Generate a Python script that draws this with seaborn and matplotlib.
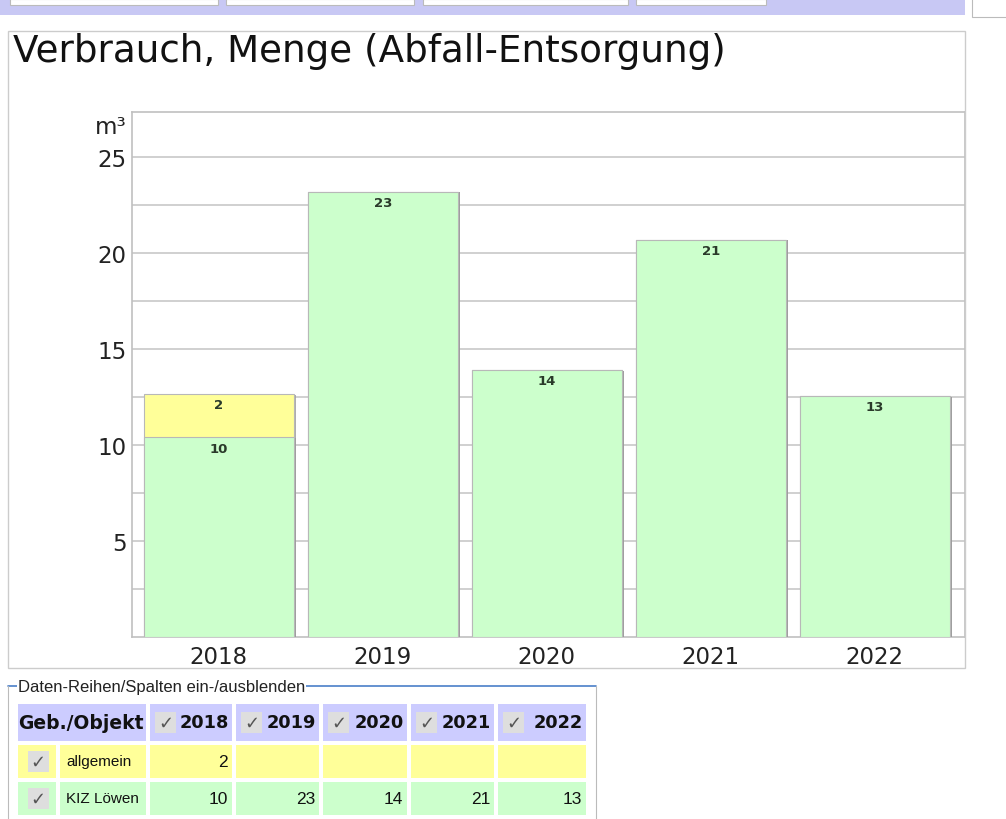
import matplotlib
matplotlib.use("Agg")
import matplotlib.pyplot as plt
import matplotlib.patheffects as pe
from matplotlib.patches import Rectangle
import numpy as np
import pandas as pd
import seaborn as sns

# ---------------- data ----------------
years = ["2018", "2019", "2020", "2021", "2022"]
kiz_loewen = [10.4, 23.2, 13.9, 20.7, 12.55]
allgemein = [2.25, 0.0, 0.0, 0.0, 0.0]
series_names = ["allgemein", "KIZ Löwen"]
y_ticks = [5, 10, 15, 20, 25]
title_text = "Verbrauch, Menge (Abfall-Entsorgung)"
unit_text = "m³"
legend_text = "Daten-Reihen/Spalten ein-/ausblenden"
header_first = "Geb./Objekt"

GREEN = "#ccffcc"
YELLOW = "#ffff99"
LAVENDER = "#ccccff"

W, H = 1006, 820
sns.set_theme(style="white")
plt.rcParams["font.family"] = ["DejaVu Sans"]

fig = plt.figure(figsize=(W / 100, H / 100), dpi=100)


def fx(x):
    return x / W


def fy(y):
    return 1 - y / H


def frect(x0, y0, x1, y1, **kw):
    r = Rectangle((fx(x0), fy(y1)), fx(x1) - fx(x0), fy(y0) - fy(y1),
                  transform=fig.transFigure, **kw)
    fig.patches.append(r)
    return r


# ---- top strip (page header remnants) ----
frect(0, 0, 965, 16, facecolor="#c8c8f4", edgecolor="none")
for a, b in [(10, 218), (226, 414), (423, 628), (636, 766)]:
    frect(a, 0, b, 6, facecolor="white", edgecolor="#bbbbbb", lw=0.8)
frect(972, -2, 1010, 18, facecolor="white", edgecolor="#bbbbbb", lw=0.8)

# ---- chart panel border ----
frect(8, 32, 965, 669, facecolor="none", edgecolor="#cccccc", lw=1.0)
fig.text(fx(13), fy(52), title_text, fontsize=26.8, va="center", ha="left",
         color="#111111")

# ---- chart axes ----
px_left, px_right, px_top, px_bottom = 132, 965, 113, 638
ax = fig.add_axes([fx(px_left), fy(px_bottom), fx(px_right) - fx(px_left),
                   fy(px_top) - fy(px_bottom)])

df = pd.DataFrame({"year": years, "kiz": kiz_loewen, "allg": allgemein})
df["total"] = df["kiz"] + df["allg"]

shadow = [pe.SimplePatchShadow(offset=(1.5, -0.5), shadow_rgbFace="#9a9a9a", alpha=0.8),
          pe.Normal()]
sns.barplot(data=df, x="year", y="total", color=YELLOW, saturation=1,
            width=0.915, edgecolor="#b8b8b8", linewidth=0.8, ax=ax, zorder=3)
sns.barplot(data=df, x="year", y="kiz", color=GREEN, saturation=1,
            width=0.915, edgecolor="#b8b8b8", linewidth=0.8, ax=ax, zorder=3)
for p in ax.patches:
    if p.get_height() > 0:
        p.set_path_effects(shadow)

# value labels
for i, (g, yv) in enumerate(zip(kiz_loewen, allgemein)):
    ax.text(i, g - 0.22, f"{round(g)}", ha="center", va="top", fontsize=9.5,
            color="#2a3a2a", fontweight="semibold", zorder=5)
    if yv > 0:
        ax.text(i, g + yv - 0.22, f"{round(yv)}", ha="center", va="top",
                fontsize=9.5, color="#2a3a2a", fontweight="semibold", zorder=5)

ax.set_xlim(-0.53, 4.55)
ax.set_ylim(0, 27.35)
ax.set_yticks(y_ticks)
ax.set_yticks(np.arange(2.5, 27.5, 5), minor=True)
ax.grid(True, axis="y", which="both", color="#c8c8c8", lw=1.2, zorder=0)
ax.set_axisbelow(True)
ax.tick_params(axis="both", which="both", length=0, labelsize=16.5,
               colors="#222222")
ax.tick_params(axis="x", pad=6)
ax.tick_params(axis="y", pad=4)
ax.set_xlabel("")
ax.set_ylabel("")
for s in ax.spines.values():
    s.set_color("#c0c0c0")
    s.set_linewidth(1.2)
fig.text(fx(127), fy(127), unit_text, fontsize=16.5, ha="right", va="center",
         color="#222222")

# ---- table below ----
fig.lines.append(plt.Line2D([fx(8), fx(596)], [fy(687), fy(687)],
                            transform=fig.transFigure, color="#4a7fc8", lw=1.2))
fig.lines.append(plt.Line2D([fx(8), fx(8)], [fy(687), fy(820)],
                            transform=fig.transFigure, color="#bbbbbb", lw=0.8))
fig.lines.append(plt.Line2D([fx(596), fx(596)], [fy(687), fy(820)],
                            transform=fig.transFigure, color="#bbbbbb", lw=0.8))
fig.text(fx(18), fy(688), legend_text, fontsize=12, ha="left", va="center",
         family="Liberation Sans", color="#222222",
         bbox=dict(facecolor="white", edgecolor="none", pad=0.5))

col_edges = [(18, 146), (150, 232), (236, 319), (323, 407), (411, 494), (498, 586)]
row_edges = [(705, 742), (746, 779), (783, 816)]


def checkbox(cx, cy, size=21):
    frect(cx - size / 2, cy - size / 2, cx + size / 2, cy + size / 2,
          facecolor="#dedede", edgecolor="none")
    fig.text(fx(cx), fy(cy), "✓", fontsize=13, ha="center", va="center",
             color="#555555")


# header row
y0, y1 = row_edges[0]
cy = (y0 + y1) / 2
frect(col_edges[0][0], y0, col_edges[0][1], y1, facecolor=LAVENDER, edgecolor="none")
fig.text(fx(81), fy(cy), header_first, fontsize=13.5, fontweight="bold",
         ha="center", va="center", color="#111111")
for (a, b), yr in zip(col_edges[1:], years):
    frect(a, y0, b, y1, facecolor=LAVENDER, edgecolor="none")
    checkbox(a + 15.5, cy)
    fig.text(fx(b - 3), fy(cy), yr, fontsize=12.8, fontweight="bold",
             ha="right", va="center", color="#111111")

# data rows
rows = [(series_names[0], allgemein, YELLOW), (series_names[1], kiz_loewen, GREEN)]
for (name, vals, col), (y0, y1) in zip(rows, row_edges[1:]):
    cy = (y0 + y1) / 2
    frect(18, y0, 56, y1, facecolor=col, edgecolor="none")
    frect(60, y0, 146, y1, facecolor=col, edgecolor="none")
    checkbox(38, cy)
    fig.text(fx(66), fy(cy), name, fontsize=11, ha="left", va="center",
             family="Liberation Sans", color="#111111")
    for (a, b), v in zip(col_edges[1:], vals):
        frect(a, y0, b, y1, facecolor=col, edgecolor="none")
        if v > 0:
            fig.text(fx(b - 4), fy(cy), f"{round(v)}", fontsize=12.5,
                     ha="right", va="center", family="Liberation Sans",
                     color="#111111")

fig.savefig("out.png", dpi=100, facecolor="white")
